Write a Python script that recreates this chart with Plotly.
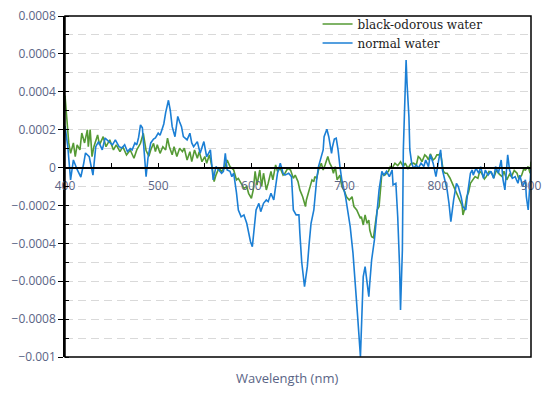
import plotly.graph_objects as go

# ---------------- data ----------------
wl_black = [400, 402, 404, 406, 409, 411, 413, 416, 418, 421, 424, 425, 427, 429, 431, 435, 437, 441, 444, 448,
            452, 455, 459, 462, 466, 470, 474, 477, 481, 484, 487, 490, 492, 495, 497, 499, 502, 505, 508, 510,
            512, 515, 517, 520, 523, 526, 528, 531, 534, 536, 539, 542, 544, 547, 550, 552, 555, 558, 560, 562,
            565, 568, 571, 574, 577, 581, 584, 586, 589, 592, 595, 597, 600, 602, 604, 606, 609, 611, 613, 616,
            618, 621, 623, 626, 628, 631, 634, 636, 639, 642, 645, 647, 650, 652, 655, 658, 659, 661, 663, 665,
            667, 668, 670, 672, 675, 677, 679, 682, 684, 686, 688, 690, 692, 695, 697, 700, 702, 705, 708, 710,
            713, 715, 717, 718, 720, 722, 724, 726, 727, 729, 731, 733, 735, 737, 738, 740, 743, 747, 749, 751,
            754, 757, 760, 763, 765, 768, 771, 774, 777, 779, 781, 783, 786, 788, 790, 792, 795, 797, 799, 801,
            803, 804, 806, 808, 810, 813, 817, 820, 824, 826, 827, 829, 831, 833, 835, 838, 840, 843, 845, 847,
            850, 852, 855, 858, 860, 863, 866, 869, 871, 874, 877, 879, 882, 885, 887, 890, 892, 894, 897, 899, 900]
black = [3.8e-4, 2.35e-4, 1.3e-4, 0.75e-4, 1.3e-4, 0.58e-4, 1.2e-4, 0.93e-4, 1.82e-4, 1.3e-4,
         2.0e-4, 1.1e-4, 2.0e-4, 0.58e-4, 1.1e-4, 1.72e-4, 1.2e-4, 1.63e-4, 1.1e-4, 1.46e-4,
         0.93e-4, 1.2e-4, 0.84e-4, 1.1e-4, 0.67e-4, 0.93e-4, 0.49e-4, 0.93e-4, 1.28e-4, 1.81e-4,
         0.9e-4, 0.6e-4, 0.93e-4, 1.28e-4, 0.84e-4, 1.2e-4, 0.75e-4, 1.1e-4, 0.93e-4, 1.55e-4,
         1.1e-4, 0.67e-4, 1.1e-4, 0.58e-4, 1.02e-4, 0.84e-4, 1.02e-4, 0.4e-4, 0.84e-4, 0.31e-4,
         0.93e-4, 0.49e-4, 0.84e-4, 0.31e-4, 0.58e-4, 0.23e-4, 0.67e-4, -0.04e-4, -0.74e-4, -0.4e-4,
         -0.04e-4, -0.2e-4, -0.04e-4, 0.4e-4, 0.05e-4, -0.13e-4, -0.65e-4, -0.57e-4, -0.83e-4, -1.1e-4,
         -1.0e-4, -1.36e-4, -1.62e-4, -1.18e-4, -0.2e-4, -0.92e-4, -0.13e-4, -1.0e-4, -0.3e-4, -1.18e-4,
         -0.83e-4, -0.2e-4, -0.65e-4, 0.14e-4, -0.2e-4, -0.04e-4, -0.4e-4, -0.3e-4, -0.04e-4, -0.13e-4,
         -0.57e-4, -0.4e-4, -0.74e-4, -1.18e-4, -1.54e-4, -2.06e-4, -1.71e-4, -1.36e-4, -0.92e-4, -0.65e-4,
         -0.74e-4, -0.48e-4, -0.57e-4, -0.13e-4, 0.23e-4, -0.13e-4, 0.14e-4, 0.58e-4, 0.23e-4, 0.05e-4,
         -0.3e-4, 0.05e-4, -0.65e-4, -0.4e-4, -1.0e-4, -1.27e-4, -1.54e-4, -1.71e-4, -1.54e-4, -2.06e-4,
         -2.24e-4, -2.5e-4, -2.68e-4, -2.59e-4, -3.03e-4, -2.5e-4, -2.94e-4, -2.77e-4, -3.3e-4, -3.65e-4,
         -3.7e-4, -2.94e-4, -2.24e-4, -2.06e-4, -1.36e-4, -0.3e-4, -0.4e-4, -0.2e-4, 0.05e-4, -0.04e-4,
         0.23e-4, 0.1e-4, 0.31e-4, 0.05e-4, 0.23e-4, -0.04e-4, 0.2e-4, 0.23e-4, 0.14e-4, 0.58e-4,
         0.49e-4, 0.31e-4, 0.67e-4, 0.58e-4, 0.4e-4, 0.72e-4, 0.4e-4, 0.49e-4, 0.67e-4, 0.67e-4,
         0.75e-4, 0.4e-4, -0.2e-4, -0.3e-4, -0.3e-4, -0.55e-4, -1.0e-4, -1.27e-4, -1.71e-4, -2.0e-4,
         -2.5e-4, -2.15e-4, -1.54e-4, -1.3e-4, -0.83e-4, -0.65e-4, -0.48e-4, -0.57e-4, -0.2e-4, -0.3e-4,
         -0.6e-4, -0.48e-4, -0.2e-4, -0.3e-4, -0.55e-4, -0.13e-4, -0.35e-4, -0.48e-4, -0.2e-4, -0.65e-4,
         -0.35e-4, -0.48e-4, -0.15e-4, -0.3e-4, -0.6e-4, -0.4e-4, -0.1e-4, -0.13e-4, 0.05e-4, -0.3e-4, 0.31e-4]

wl_normal = [400, 403, 406, 409, 413, 417, 420, 422, 426, 430, 433, 436, 440, 443, 447, 451, 454, 458, 461, 464,
             467, 470, 472, 475, 477, 479, 481, 483, 485, 487, 489, 492, 495, 497, 500, 502, 504, 506, 508, 511,
             513, 515, 518, 521, 523, 525, 527, 531, 534, 536, 538, 542, 545, 549, 552, 556, 559, 562, 565, 568,
             570, 572, 574, 577, 579, 581, 584, 586, 589, 592, 595, 597, 599, 601, 602, 605, 608, 610, 613, 616,
             618, 621, 624, 626, 628, 631, 634, 636, 640, 643, 645, 648, 651, 652, 654, 657, 660, 662, 664, 667,
             668, 670, 672, 675, 677, 678, 681, 683, 686, 687, 689, 691, 693, 695, 697, 701, 703, 706, 709, 711,
             714, 717, 718, 720, 722, 724, 726, 727, 729, 732, 735, 737, 740, 742, 745, 748, 751, 752, 755, 757,
             759, 760, 762, 763, 765, 766, 767, 769, 770, 772, 774, 777, 779, 782, 785, 787, 790, 792, 795, 798,
             801, 803, 805, 808, 810, 812, 814, 817, 820, 822, 825, 827, 830, 832, 835, 837, 838, 841, 844, 846,
             849, 851, 854, 857, 860, 862, 865, 868, 870, 872, 875, 877, 880, 883, 886, 888, 891, 894, 895, 897,
             899, 900]
normal = [2.2e-4, 1.1e-4, -0.65e-4, 0.4e-4, -0.1e-4, -0.5e-4, 0.2e-4, 0.77e-4, 0.57e-4, -0.4e-4,
          1.1e-4, 1.37e-4, 0.93e-4, 1.56e-4, 1.37e-4, 1.2e-4, 1.46e-4, 1.1e-4, 1.03e-4, 1.2e-4,
          0.84e-4, 1.0e-4, 0.93e-4, 1.3e-4, 1.2e-4, 1.6e-4, 2.25e-4, 2.1e-4, 0.8e-4, -0.48e-4,
          0.5e-4, 1.3e-4, 1.5e-4, 1.56e-4, 1.82e-4, 1.7e-4, 2.0e-4, 2.3e-4, 2.9e-4, 3.55e-4,
          3.0e-4, 2.16e-4, 1.63e-4, 2.7e-4, 2.4e-4, 2.16e-4, 1.63e-4, 1.46e-4, 1.81e-4, 1.3e-4,
          1.1e-4, 1.37e-4, 0.75e-4, 1.37e-4, 0.57e-4, 0.93e-4, -0.65e-4, 0.05e-4, -0.13e-4, -0.3e-4,
          -0.2e-4, 0.75e-4, -0.13e-4, -0.2e-4, -0.48e-4, -0.3e-4, -1.34e-4, -2.24e-4, -2.6e-4, -2.5e-4,
          -2.94e-4, -3.47e-4, -3.9e-4, -4.18e-4, -3.65e-4, -2.24e-4, -1.89e-4, -2.33e-4, -1.89e-4, -1.71e-4,
          -1.8e-4, -1.36e-4, -1.71e-4, -0.83e-4, -0.3e-4, 0.23e-4, -0.3e-4, -0.4e-4, -0.3e-4, -0.48e-4,
          -2.24e-4, -2.5e-4, -2.5e-4, -3.46e-4, -5.0e-4, -6.29e-4, -5.23e-4, -4.0e-4, -2.94e-4, -2.24e-4,
          -1.54e-4, -0.65e-4, 0.05e-4, 0.58e-4, 0.93e-4, 1.63e-4, 2.02e-4, 1.63e-4, 0.75e-4, 1.1e-4,
          1.5e-4, 1.55e-4, 0.93e-4, 0.05e-4, -0.65e-4, -1.54e-4, -2.24e-4, -3.12e-4, -4.52e-4, -6.11e-4,
          -7.87e-4, -9.98e-4, -8.57e-4, -5.76e-4, -5.23e-4, -5.93e-4, -6.81e-4, -6.11e-4, -4.88e-4, -3.82e-4,
          -2.24e-4, -1.18e-4, -0.2e-4, -0.4e-4, -0.2e-4, -0.48e-4, -0.13e-4, -0.92e-4, -0.83e-4, -2.6e-4,
          -5.23e-4, -7.52e-4, -4.35e-4, 0.93e-4, 4.1e-4, 5.68e-4, 4.45e-4, 2.69e-4, 0.93e-4, 0.23e-4,
          -0.04e-4, 0.14e-4, -0.04e-4, 0.23e-4, 0.05e-4, 0.4e-4, 0.05e-4, 0.67e-4, 0.23e-4, -0.48e-4,
          0.4e-4, 0.93e-4, -0.13e-4, -0.83e-4, -1.18e-4, -1.89e-4, -2.85e-4, -1.71e-4, -0.83e-4, -1.0e-4,
          -1.54e-4, -2.06e-4, -2.24e-4, -1.36e-4, -0.3e-4, -0.13e-4, -0.4e-4, -0.04e-4, -0.3e-4, 0.05e-4,
          -0.57e-4, -0.13e-4, -0.4e-4, -0.2e-4, -0.57e-4, 0.05e-4, -0.3e-4, 0.4e-4, -0.65e-4, -1.18e-4,
          0.67e-4, -0.13e-4, -0.57e-4, -0.48e-4, -0.83e-4, -0.4e-4, -1.0e-4, -0.65e-4, -1.54e-4, -2.24e-4,
          -1.0e-4, -0.04e-4]

y_tickvals = [0.0008, 0.0006, 0.0004, 0.0002, 0, -0.0002, -0.0004, -0.0006, -0.0008, -0.001]
y_ticktext = ["0.0008", "0.0006", "0.0004", "0.0002", "0", "\u22120.0002", "\u22120.0004",
              "\u22120.0006", "\u22120.0008", "\u22120.001"]
x_tickvals = [400, 500, 600, 700, 800, 900]
x_ticktext = ["400", "500", "600", "700", "800", "900"]

GREEN = "#559a35"
BLUE = "#1b7fd5"
TICKCOL = "#5a6485"
GRID = "#d9d9d9"

fig = go.Figure()
fig.add_trace(go.Scatter(x=wl_black, y=black, mode="lines", name="black-odorous water",
                         line=dict(color=GREEN, width=1.6)))
fig.add_trace(go.Scatter(x=wl_normal, y=normal, mode="lines", name="normal water",
                         line=dict(color=BLUE, width=1.6)))

# fraction of the plot height (from bottom) where y = 0 sits
zero_pos = (0 - (-0.001)) / (0.0008 - (-0.001))

fig.update_layout(
    width=550, height=394,
    margin=dict(l=65, r=19, t=16, b=37, autoexpand=False),
    paper_bgcolor="white", plot_bgcolor="white",
    showlegend=True,
    legend=dict(x=0.542, y=1.019, xanchor="left", yanchor="top",
                bgcolor="rgba(0,0,0,0)", borderwidth=0,
                font=dict(family="DejaVu Serif, serif", size=12, color="#222222"),
                tracegroupgap=0, itemwidth=30),
    xaxis=dict(range=[400, 900], anchor="free", position=zero_pos, automargin=False,
               showline=True, linecolor="black", linewidth=1.5,
               tickvals=x_tickvals, ticktext=x_ticktext,
               ticks="inside", ticklen=4, tickcolor="black", tickwidth=1.2,
               minor=dict(dtick=50, tick0=400, ticks="inside", ticklen=4, tickcolor="black", tickwidth=1.2),
               showgrid=False, zeroline=False,
               tickfont=dict(family="Open Sans, sans-serif", size=12, color=TICKCOL),
               ticklabelstandoff=7),
    yaxis=dict(range=[-0.001, 0.0008], automargin=False,
               showline=True, linecolor="black", linewidth=1.5,
               tickvals=y_tickvals, ticktext=y_ticktext,
               ticks="outside", ticklen=5, tickcolor="black", tickwidth=1.2,
               minor=dict(dtick=0.0001, tick0=0, ticks="inside", ticklen=4, tickcolor="black", tickwidth=1.2,
                          showgrid=True, gridcolor=GRID, griddash="8px,5px", gridwidth=1),
               showgrid=True, gridcolor=GRID, griddash="8px,5px", gridwidth=1,
               zeroline=False,
               tickfont=dict(family="Open Sans, sans-serif", size=12, color=TICKCOL)),
    annotations=[dict(text="Wavelength (nm)", xref="paper", yref="paper", x=0.477, y=-0.062,
                      xanchor="center", yanchor="middle", showarrow=False,
                      font=dict(family="Open Sans, sans-serif", size=13, color=TICKCOL))],
    shapes=[dict(type="rect", xref="paper", yref="paper", x0=0, x1=1, y0=0, y1=1,
                 line=dict(color="black", width=1.5), layer="above")],
)

fig.write_html("out.html", config={"displayModeBar": False},
               post_script="document.body.style.margin='0';document.body.style.overflow='hidden';")
